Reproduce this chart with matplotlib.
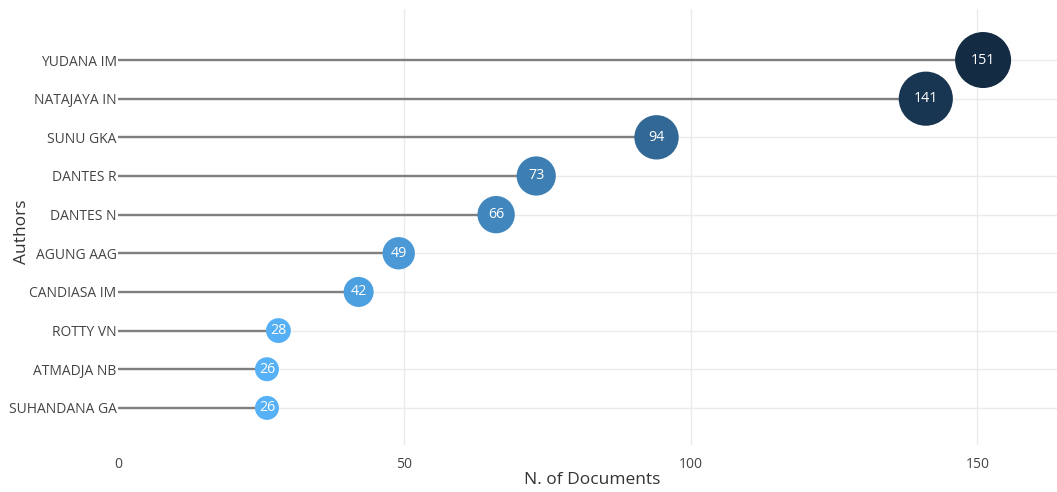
import matplotlib
matplotlib.use("Agg")
import matplotlib.pyplot as plt
import numpy as np

authors = ["YUDANA IM", "NATAJAYA IN", "SUNU GKA", "DANTES R", "DANTES N",
           "AGUNG AAG", "CANDIASA IM", "ROTTY VN", "ATMADJA NB", "SUHANDANA GA"]
docs = [151, 141, 94, 73, 66, 49, 42, 28, 26, 26]
xticks = [0, 50, 100, 150]

plt.rcParams['font.family'] = ['Open Sans', 'DejaVu Sans']

W, H, DPI = 1057, 492, 100
fig = plt.figure(figsize=(W / DPI, H / DPI), dpi=DPI)
ax = fig.add_axes([118 / W, (H - 445) / H, (1057 - 118) / W, (445 - 9) / H])

vals = np.array(docs, dtype=float)
ypos = np.arange(len(authors))

# colour: reversed ggplot gradient (#56B1F7 low -> #132B43 high)
lo = np.array([0x56, 0xB1, 0xF7]) / 255
hi = np.array([0x13, 0x2B, 0x43]) / 255
t = (vals - vals.min()) / (vals.max() - vals.min())
colors = [tuple(lo + (hi - lo) * ti) for ti in t]

# size: area linear in value (diameter px 24 at min, 56 at max)
d2 = 24 ** 2 + (56 ** 2 - 24 ** 2) * t
d_px = np.sqrt(d2)
d_pt = d_px * 72 / DPI
sizes = d_pt ** 2

ax.hlines(ypos, 0, vals, color='#7f7f7f', linewidth=1.7, zorder=2)
ax.scatter(vals, ypos, s=sizes, c=colors, zorder=3, linewidths=0)
for x, y, v in zip(vals, ypos, docs):
    ax.text(x, y, str(v), color='white', ha='center', va='center',
            fontsize=10.3, zorder=4)

ax.set_xlim(0, 163.9)
ax.set_ylim(9.96, -1.32)
ax.set_yticks(ypos)
ax.set_yticklabels(authors)
ax.set_xticks(xticks)
ax.set_xticklabels([str(v) for v in xticks])
ax.tick_params(axis='both', length=0, labelsize=10, colors='#444444')
ax.tick_params(axis='y', pad=1)
ax.tick_params(axis='x', pad=9)
ax.grid(True, color='#ebebeb', linewidth=1.0, zorder=0)
ax.xaxis.get_gridlines()[0].set_visible(False)
ax.set_axisbelow(True)
for s in ax.spines.values():
    s.set_visible(False)

fig.text(592 / W, 1 - 480 / H, "N. of Documents", ha='center', va='center',
         fontsize=12.5, color='#333333')
fig.text(22 / W, 1 - 232 / H, "Authors", ha='center', va='center',
         rotation=90, fontsize=12.5, color='#333333')

fig.savefig("out.png", dpi=DPI)
